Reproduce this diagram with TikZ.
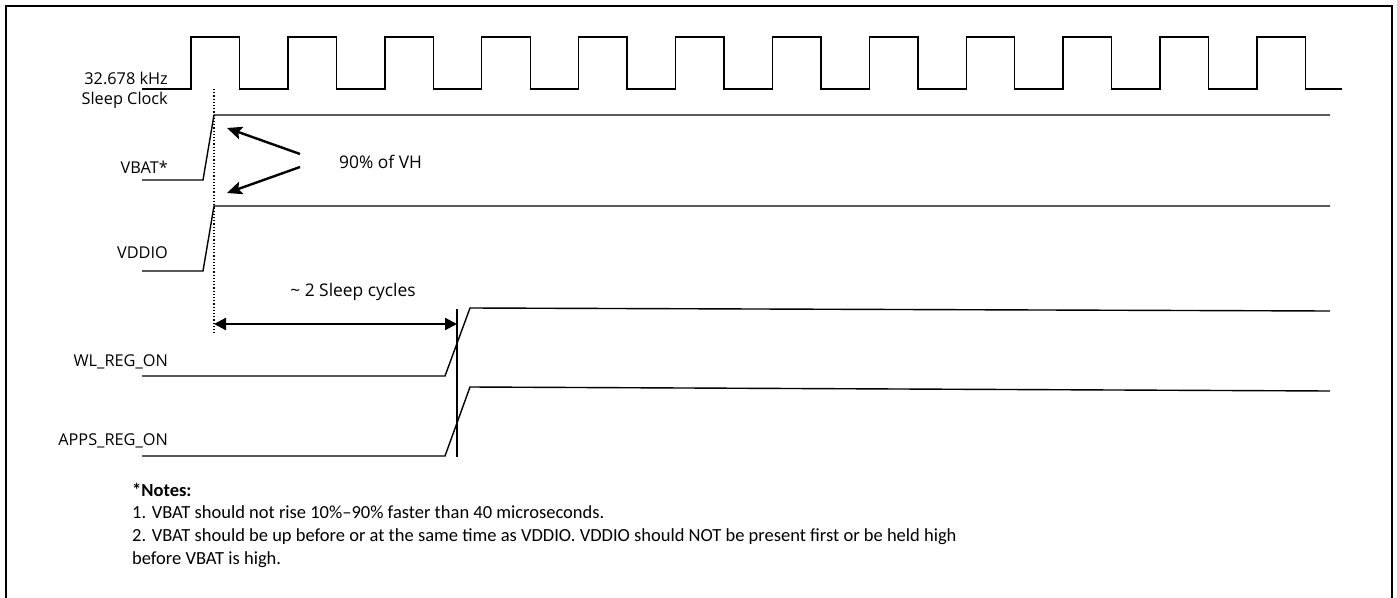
\documentclass[tikz,border=0pt]{standalone}
\usepackage{fontspec}
\setmainfont{Carlito}
\newfontfamily\lblfont{Open Sans}
\usetikzlibrary{arrows.meta}

\begin{document}
\begin{tikzpicture}[x=1pt,y=-1pt,
    sig/.style={line width=1.4pt},
    lbl/.style={anchor=east,inner sep=0pt,font=\lblfont\fontsize{16.3}{18}\selectfont},
    txt/.style={inner sep=0pt,font=\lblfont\fontsize{17.4}{19}\selectfont},
    note/.style={anchor=base west,inner sep=0pt,font=\fontsize{18.5}{20}\selectfont}]
    \useasboundingbox (0,0) rectangle (1397,597);
    % frame
    \draw[line width=2.6pt] (6,610) -- (6,6) -- (1392,6) -- (1392,610);
    % sleep clock
    \def\per{96.9}
    \draw[sig] (142,89) foreach \k in {0,...,11} {
        -- ({191+\k*\per},89) -- ({191+\k*\per},37)
        -- ({239.5+\k*\per},37) -- ({239.5+\k*\per},89)} -- (1342,89);
    % supplies
    \draw[sig] (142,180) -- (203,180) -- (214,115) coordinate (vbathi) -- (1330,115);
    \draw[sig] (142,271) -- (203,271) -- (214,206) coordinate (vddiohi) -- (1330,206);
    % reg_on
    \draw[sig] (142,376) -- (445,376) -- (470,308) -- (1330,311);
    \draw[sig] (142,456) -- (445,456) -- (470,387) -- (1330,391);
    % markers
    \coordinate (dtop) at (214,89);
    \coordinate (dbot) at (214,335);
    \draw[dotted,line width=1.2pt] (dtop) -- (dbot);
    \coordinate (rtop) at (457,309);
    \coordinate (rbot) at (457,457);
    \draw[line width=1.2pt] (rtop) -- (rbot);
    % labels
    \node[lbl] (clk) at (168,78) {32.678 kHz};
    \node[lbl] (sclk) at (168,100) {Sleep Clock};
    \node[lbl] (vbat) at (168,167) {VBAT*};
    \node[lbl] (vddio) at (168,253) {VDDIO};
    \node[lbl] (wl) at (168,362) {WL\_REG\_ON};
    \node[lbl] (apps) at (168,441) {APPS\_REG\_ON};
    % 90% arrows
    \node[txt,anchor=west] (vh) at (339,162) {90\% of VH};
    \coordinate (vhup) at (300,154);
    \coordinate (vhdn) at (300,167);
    \coordinate (hitup) at (227,128);
    \coordinate (hitdn) at (227,193);
    \draw[line width=2.4pt,-{Stealth[length=15pt,width=13pt,inset=3pt]}] (vhup) -- (hitup);
    \draw[line width=2.4pt,-{Stealth[length=15pt,width=13pt,inset=3pt]}] (vhdn) -- (hitdn);
    % sleep cycles
    \node[txt] (cyc) at (353,292) {\textasciitilde{} 2 Sleep cycles};
    \coordinate (cycl) at (214,324);
    \coordinate (cycr) at (457,324);
    \draw[line width=2.2pt,{Triangle[length=12pt,width=12pt]}-{Triangle[length=12pt,width=12pt]}] (cycl) -- (cycr);
    % notes
    \node[note] (n0) at (132,496) {\bfseries *Notes:};
    \node[note] (n1) at (132,518) {1. VBAT should not rise 10\%--90\% faster than 40 microseconds.};
    \node[note] (n2) at (132,541) {2. VBAT should be up before or at the same time as VDDIO. VDDIO should NOT be present first or be held high};
    \node[note] (n3) at (132,564) {before VBAT is high.};
\end{tikzpicture}
\end{document}
